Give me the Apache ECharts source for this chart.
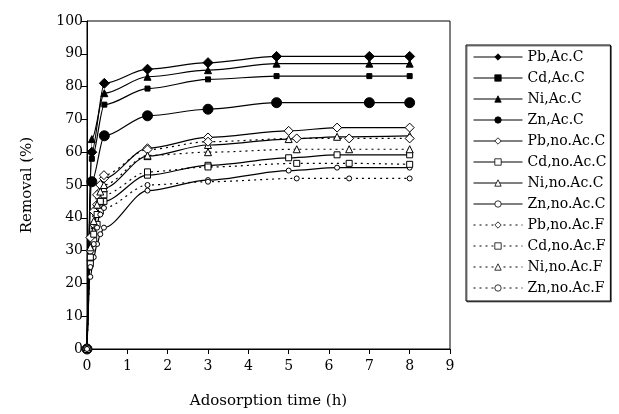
<!DOCTYPE html>
<html>
<head>
<meta charset="utf-8">
<script src="https://cdn.jsdelivr.net/npm/echarts@6/dist/echarts.min.js"></script>
<style>
  html, body { margin: 0; padding: 0; background: #fff; }
  #chart { width: 619px; height: 414px; }
</style>
</head>
<body>
<div id="chart"></div>
<script>
// sampling times (h)
const tAcC = [0, 0.12, 0.43, 1.5, 3, 4.7, 7, 8]
const tNoAcC = [0, 0.083, 0.167, 0.25, 0.33, 0.42, 1.5, 3, 5, 6.2, 8]
const tNoAcF = [0, 0.083, 0.167, 0.25, 0.33, 0.42, 1.5, 3, 5.2, 6.5, 8]

// removal (%)
const pbAcC = [0, 60, 81, 85.3, 87.3, 89.2, 89.2, 89.2]
const cdAcC = [0, 58, 74.5, 79.4, 82.2, 83.2, 83.2, 83.2]
const niAcC = [0, 64, 78, 83, 85, 87, 87, 87]
const znAcC = [0, 51, 65, 71.1, 73.1, 75.1, 75.1, 75.1]

const pbNoAcC = [0, 30, 38, 44, 48, 52, 61.2, 64.5, 66.5, 67.5, 67.5]
const cdNoAcC = [0, 26, 33, 38, 42, 45, 53, 56, 58.3, 59.2, 59.2]
const niNoAcC = [0, 28, 36, 42, 46, 49, 58.8, 62.2, 64, 64.7, 65]
const znNoAcC = [0, 22, 28, 32, 35, 37, 48.3, 51.5, 54.4, 55.3, 55.3]

const pbNoAcF = [0, 34, 42, 47, 50, 53, 60.8, 63.2, 64.2, 64.2, 64.2]
const cdNoAcF = [0, 28, 35, 41, 45, 47, 54, 55.5, 56.6, 56.6, 56.3]
const niNoAcF = [0, 31, 39, 44, 48, 50, 59, 60, 60.9, 60.9, 60.9]
const znNoAcF = [0, 25, 32, 37, 41, 43, 50, 51, 52, 52, 52]

const serif = 'DejaVu Serif'

function pairs(ts, vs) {
  return ts.map(function(t, i) { return [t, vs[i]] })
}

function mkSeries(name, ts, vs, symbol, size, filled, dotted) {
  return {
    name: name,
    type: 'line',
    data: pairs(ts, vs),
    smooth: 0.3,
    smoothMonotone: 'x',
    symbol: symbol,
    symbolSize: size,
    showAllSymbol: true,
    lineStyle: { color: '#000', width: 1.2, type: dotted ? [2, 4] : 'solid' },
    itemStyle: {
      color: filled ? '#000' : '#fff',
      borderColor: '#000',
      borderWidth: 1
    },
    emphasis: { disabled: true }
  }
}

const series = [
  mkSeries('Pb,Ac.C', tAcC, pbAcC, 'diamond', 10, true, false),
  mkSeries('Cd,Ac.C', tAcC, cdAcC, 'rect', 5, true, false),
  mkSeries('Ni,Ac.C', tAcC, niAcC, 'triangle', 7, true, false),
  mkSeries('Zn,Ac.C', tAcC, znAcC, 'circle', 10, true, false),
  mkSeries('Pb,no.Ac.C', tNoAcC, pbNoAcC, 'diamond', 9, false, false),
  mkSeries('Cd,no.Ac.C', tNoAcC, cdNoAcC, 'rect', 6, false, false),
  mkSeries('Ni,no.Ac.C', tNoAcC, niNoAcC, 'triangle', 7, false, false),
  mkSeries('Zn,no.Ac.C', tNoAcC, znNoAcC, 'circle', 5, false, false),
  mkSeries('Pb,no.Ac.F', tNoAcF, pbNoAcF, 'diamond', 9, false, true),
  mkSeries('Cd,no.Ac.F', tNoAcF, cdNoAcF, 'rect', 6, false, true),
  mkSeries('Ni,no.Ac.F', tNoAcF, niNoAcF, 'triangle', 7, false, true),
  mkSeries('Zn,no.Ac.F', tNoAcF, znNoAcF, 'circle', 5, false, true)
]

const myChart = echarts.init(document.getElementById('chart'), null, { renderer: 'canvas' })

const option = {
  animation: false,
  backgroundColor: '#fff',
  grid: {
    left: 87,
    right: 169,
    top: 21,
    bottom: 65,
    show: true,
    borderColor: '#000',
    borderWidth: 1
  },
  legend: {
    orient: 'vertical',
    left: 466,
    top: 45,
    width: 150,
    itemWidth: 49,
    itemHeight: 8,
    itemGap: 5,
    padding: [4, 4, 5, 7],
    borderColor: '#000',
    borderWidth: 1,
    shadowColor: 'rgba(0,0,0,0.5)',
    shadowOffsetX: 1,
    shadowOffsetY: 1,
    backgroundColor: '#fff',
    selectedMode: false,
    itemStyle: { borderWidth: 0.8 },
    lineStyle: { width: 1 },
    textStyle: { fontFamily: serif, fontSize: 14, lineHeight: 16, color: '#000' },
    data: series.map(function(s) { return s.name })
  },
  xAxis: {
    type: 'value',
    min: 0,
    max: 9,
    interval: 1,
    name: 'Adosorption time (h)',
    nameLocation: 'middle',
    nameGap: 45,
    nameTextStyle: { fontFamily: serif, fontSize: 15, color: '#000' },
    axisLine: { onZero: false, lineStyle: { color: '#000', width: 1 } },
    axisTick: { show: true, length: 5, lineStyle: { color: '#000' } },
    axisLabel: { fontFamily: serif, fontSize: 14, color: '#000', margin: 10 },
    splitLine: { show: false }
  },
  yAxis: {
    type: 'value',
    min: 0,
    max: 100,
    interval: 10,
    name: 'Removal (%)',
    nameLocation: 'middle',
    nameGap: 52,
    nameRotate: 90,
    nameTextStyle: { fontFamily: serif, fontSize: 15, color: '#000' },
    axisLine: { show: true, lineStyle: { color: '#000', width: 1 } },
    axisTick: { show: true, length: 6, lineStyle: { color: '#000' } },
    axisLabel: { fontFamily: serif, fontSize: 14, color: '#000', margin: 4 },
    splitLine: { show: false }
  },
  series: series
}

myChart.setOption(option)
</script>
</body>
</html>
